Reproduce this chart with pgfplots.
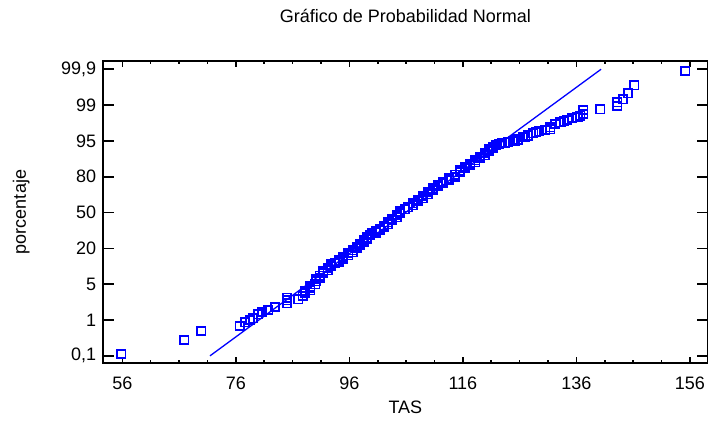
\documentclass[border=0pt]{standalone}
\usepackage{fontspec}
\setmainfont{Liberation Sans}
\usepackage{pgfplots}
\pgfplotsset{compat=1.18}
\definecolor{sgblue}{RGB}{0,0,255}

% TAS values against the probability rank (0 = 0,1 % ... 8 = 99,9 %)
\pgfplotstableread{
x y
55.8 0.05
66.9 0.44
69.9 0.69
76.7 0.83
77.6 0.94
78.5 1.00
79.0 1.05
79.9 1.16
80.6 1.22
81.7 1.28
82.9 1.36
85.0 1.47
85.0 1.55
85.0 1.62
87.0 1.58
87.8 1.67
88.2 1.75
88.2 1.81
89.1 1.83
89.1 1.94
89.1 1.89
90.0 2.00
90.1 2.08
90.1 2.14
90.8 2.17
90.8 2.24
91.4 2.31
91.4 2.36
92.2 2.39
92.2 2.45
92.8 2.50
92.8 2.55
93.5 2.59
94.2 2.61
94.2 2.66
94.9 2.70
94.9 2.76
95.8 2.81
95.8 2.86
96.6 2.89
96.6 2.95
97.4 3.00
97.4 3.05
97.9 3.09
97.9 3.13
98.6 3.17
98.6 3.22
99.1 3.26
99.1 3.31
99.6 3.37
100.0 3.42
100.7 3.48
100.7 3.44
101.4 3.54
101.4 3.50
102.1 3.59
102.1 3.63
102.8 3.67
102.8 3.73
103.5 3.79
103.5 3.83
104.4 3.87
104.4 3.93
104.9 3.98
104.9 4.03
105.8 4.09
106.3 4.15
107.2 4.20
107.2 4.26
108.1 4.32
108.1 4.36
109.0 4.40
109.0 4.46
109.8 4.51
109.8 4.57
110.7 4.63
110.7 4.68
111.6 4.74
111.6 4.78
112.5 4.82
112.5 4.86
113.6 4.90
113.6 4.95
114.6 4.99
114.6 5.06
115.5 5.13
115.5 5.18
116.4 5.24
116.4 5.28
117.3 5.32
117.3 5.36
118.2 5.40
118.2 5.46
119.0 5.52
119.0 5.56
119.9 5.60
119.9 5.66
120.6 5.71
120.6 5.76
121.3 5.80
121.3 5.84
121.8 5.88
122.4 5.91
122.9 5.94
123.5 5.95
124.0 5.96
124.8 5.99
125.2 6.01
125.7 6.04
126.6 6.10
127.0 6.12
127.5 6.15
128.4 6.21
128.9 6.24
129.4 6.27
130.5 6.30
131.4 6.32
131.4 6.38
132.3 6.47
133.2 6.52
133.8 6.55
134.4 6.58
135.3 6.64
136.2 6.66
136.7 6.70
137.2 6.75
137.2 6.86
140.2 6.88
143.2 6.97
143.2 7.08
144.2 7.16
145.1 7.33
146.2 7.55
155.2 7.95
}\datos

\begin{document}
\begin{tikzpicture}
\useasboundingbox (0,0) rectangle (709bp,421bp);
\pgfplotsset{every axis/.append style={
  at={(103.3bp,58bp)}, anchor=south west,
  scale only axis, width=604.2bp, height=302bp,
  xmin=52.65, xmax=159.1, ymin=-0.2, ymax=8.23,
  tick align=inside,
  tick style={black, line width=1.6bp},
  font=\fontsize{18bp}{20bp}\selectfont,
}}
% ticks of the y axis (longer)
\begin{axis}[
  axis line style={draw=none},
  xtick=\empty,
  ytick={0,...,8},
  yticklabels={{0,1},1,5,20,50,80,95,99,{99,9}},
  major tick length=11bp,
  yticklabel style={anchor=east, inner sep=0pt, xshift=-7bp},
  ylabel={porcentaje},
  ylabel style={at={(axis description cs:-0.128,0.5)}, anchor=base, rotate=0},
]
\end{axis}
\begin{axis}[
  axis line style={black, line width=1.8bp},
  ytick=\empty,
  xtick={56,76,96,116,136,156},
  xticklabels={56,76,96,116,136,156},
  minor x tick num=3,
  major tick length=6bp, minor tick length=3bp,
  xticklabel style={anchor=base, yshift=-26bp},
  xlabel={TAS},
  xlabel style={at={(axis description cs:0.5,0)}, anchor=base, yshift=-50bp},
  title={Gráfico de Probabilidad Normal},
  title style={at={(axis description cs:0.5,1)}, anchor=base, yshift=33bp},
]
\addplot[sgblue, line width=1.3bp, no marks] coordinates {(71.45,0) (140.35,8)};
\addplot[only marks, mark=square, mark size=4.2bp,
  mark options={sgblue, line width=1.7bp, fill=none}] table {\datos};
\end{axis}
\end{tikzpicture}
\end{document}
